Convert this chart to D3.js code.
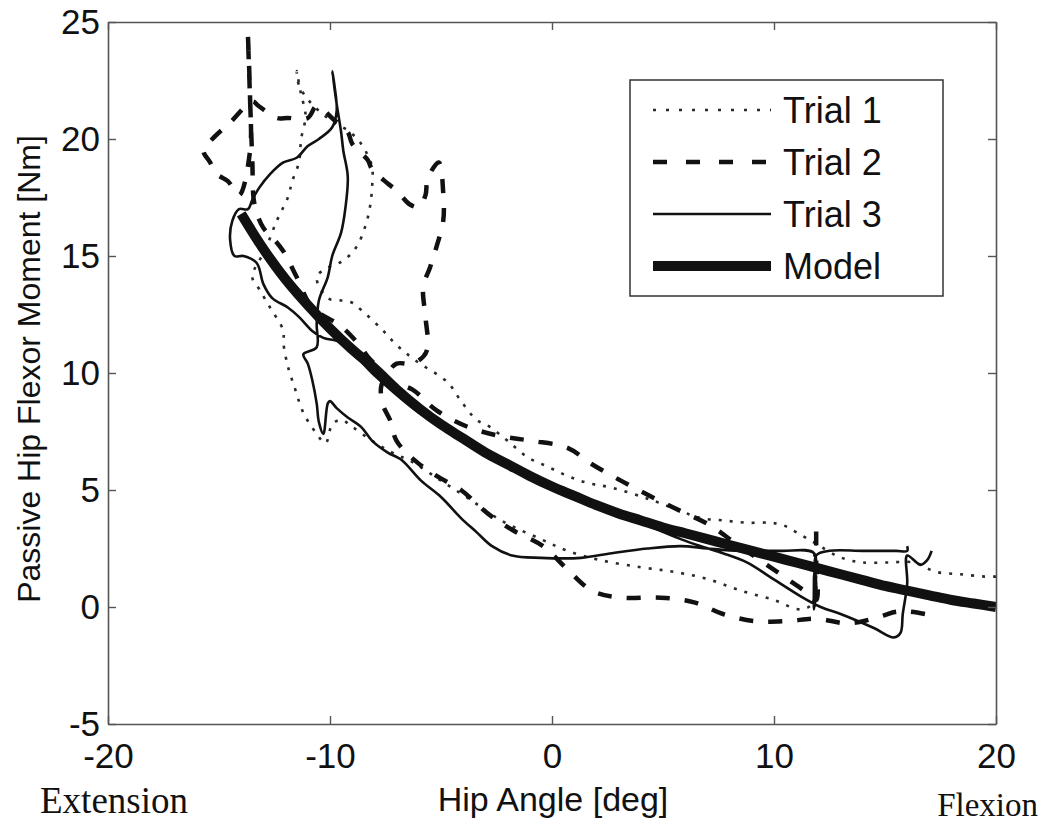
<!DOCTYPE html>
<html>
<head>
<meta charset="utf-8">
<script src="https://cdn.jsdelivr.net/npm/d3@7"></script>
<style>
  body { margin: 0; background: #fff; }
  svg { display: block; }
  text { fill: #111; }
</style>
</head>
<body>
<svg id="chart"></svg>
<script>
// hip angle [deg], passive moment [Nm]
const trial1 = [
  [20.0,1.3],[19.5,1.3],[18.4,1.4],[17.3,1.5],[16.3,1.9],[15.1,1.9],[14.0,1.9],[13.4,2.0],
  [12.8,2.2],[11.9,2.7],[11.0,3.2],[10.4,3.5],[9.8,3.6],[8.8,3.6],[7.7,3.7],[6.7,3.8],
  [5.8,4.1],[4.4,4.6],[2.7,5.1],[1.6,5.3],[0.7,5.6],[-0.2,6.0],[-1.1,6.4],[-2.0,7.1],
  [-2.8,7.7],[-3.4,8.0],[-4.1,8.8],[-4.7,9.6],[-6.1,10.5],[-7.0,11.2],[-7.7,11.9],[-8.6,12.7],
  [-9.0,13.0],[-9.5,13.1],[-10.1,13.2],[-10.6,14.1],[-10.1,14.5],[-9.4,14.8],[-8.8,15.4],
  [-8.4,16.3],[-8.2,17.1],[-8.1,18.0],[-8.1,18.8],[-8.3,19.3],[-8.6,19.8],[-9.1,20.3],
  [-9.8,20.7],[-10.5,21.2],[-11.0,21.7],[-11.4,22.3],[-11.5,22.9],[-11.3,21.9],[-11.1,21.0],
  [-11.3,20.0],[-11.4,19.0],[-11.7,18.2],[-11.9,17.5],[-12.4,16.5],[-12.9,15.3],[-13.5,14.1],
  [-13.2,13.6],[-12.7,12.8],[-12.1,11.8],[-12.1,11.3],[-11.9,10.3],[-11.6,9.4],[-11.2,8.3],
  [-10.6,7.4],[-10.2,7.0],[-9.9,7.8],[-9.5,8.0],[-9.0,7.7],[-8.1,7.1],[-7.2,6.6],[-6.3,6.2],
  [-5.0,5.4],[-3.7,4.6],[-2.3,3.7],[-0.5,2.9],[0.7,2.4],[2.2,2.0],[4.0,1.7],[5.5,1.5],
  [7.0,1.2],[8.5,0.7],[10.0,0.3],[11.2,-0.1],[11.8,0.2],[11.9,1.2],[11.8,2.0],[11.9,2.7]
]

const trial2 = [
  [16.8,-0.3],[16.1,-0.2],[15.5,-0.2],[14.8,-0.4],[13.4,-0.7],[11.9,-0.5],[10.6,-0.6],[9.1,-0.6],
  [7.7,-0.3],[6.4,0.2],[4.9,0.4],[3.1,0.4],[1.8,0.7],[0.7,1.6],[-0.4,2.6],[-1.8,3.3],
  [-2.9,4.0],[-4.1,5.0],[-5.2,5.6],[-6.1,6.2],[-7.0,7.1],[-7.3,8.0],[-7.6,8.6],[-7.7,9.4],
  [-7.4,10.0],[-7.0,10.4],[-6.3,10.4],[-5.8,10.7],[-5.6,11.1],[-5.7,12.4],[-5.8,13.7],
  [-5.5,14.5],[-5.2,15.4],[-4.9,16.5],[-4.9,17.7],[-5.1,19.0],[-5.6,18.3],[-5.7,17.6],
  [-6.0,17.1],[-6.4,17.2],[-7.0,17.8],[-7.4,18.1],[-8.1,18.7],[-8.3,19.1],[-9.0,19.8],
  [-9.2,20.3],[-9.8,20.8],[-10.6,21.4],[-11.0,20.9],[-11.9,20.9],[-12.4,20.9],[-13.2,21.4],
  [-13.5,21.6],[-14.5,20.7],[-15.3,20.0],[-15.7,19.5],[-15.4,19.0],[-15.1,18.5],[-14.6,18.2],
  [-14.1,17.6],[-13.6,19.5],[-13.6,21.7],[-13.7,24.5],[-13.6,21.7],[-13.5,19.1],[-13.4,17.2],
  [-13.0,16.2],[-12.6,15.8],[-12.1,15.2],[-11.5,14.1],[-10.8,12.8],[-9.5,12.0],[-8.6,11.1],
  [-8.3,10.7],[-7.7,10.1],[-7.4,9.7],[-6.3,9.3],[-5.2,8.4],[-3.8,7.7],[-2.3,7.3],[-0.9,7.1],
  [0.7,6.8],[1.8,6.1],[3.1,5.4],[4.5,4.7],[5.8,4.1],[7.1,3.5],[8.3,2.7],[10.6,1.2],
  [11.5,0.6],[11.9,0.3],[11.9,2.0],[11.9,3.6]
]

const trial3 = [
  [17.1,2.4],[16.9,2.0],[16.6,1.8],[16.0,2.2],[16.0,1.0],[15.8,-0.3],[15.7,-1.1],[15.4,-1.3],
  [14.5,-0.9],[13.0,-0.3],[12.1,0.0],[11.3,0.4],[9.8,1.3],[8.8,1.9],[7.7,2.3],[6.7,2.6],
  [5.8,2.9],[4.0,3.6],[2.0,4.3],[0.0,5.1],[-2.0,6.0],[-4.0,7.1],[-6.0,8.3],[-8.0,9.9],
  [-9.5,11.3],[-10.3,11.5],[-10.8,11.8],[-11.4,12.4],[-11.9,12.8],[-12.6,13.2],[-13.0,13.8],
  [-13.3,14.7],[-13.9,15.0],[-14.3,15.0],[-14.5,15.7],[-14.4,16.5],[-14.1,17.0],[-13.7,17.0],
  [-13.5,17.4],[-13.2,17.9],[-12.7,18.5],[-12.1,19.0],[-11.5,19.2],[-11.0,19.7],[-10.5,20.0],
  [-9.9,20.5],[-9.7,21.2],[-9.8,22.3],[-9.9,22.9],[-9.7,21.5],[-9.5,20.3],[-9.4,19.5],
  [-9.2,18.4],[-9.3,17.1],[-9.5,16.0],[-9.9,15.0],[-10.1,14.1],[-10.5,13.1],[-10.6,12.1],
  [-10.6,11.1],[-11.2,10.8],[-11.0,10.4],[-10.8,9.7],[-10.6,8.7],[-10.5,7.9],[-10.3,7.4],
  [-10.1,8.7],[-10.0,8.8],[-9.7,8.5],[-9.2,8.1],[-8.6,7.7],[-8.1,7.1],[-7.4,6.6],[-6.8,6.3],
  [-5.9,5.4],[-5.0,4.7],[-4.1,3.8],[-3.4,3.2],[-2.7,2.6],[-1.8,2.2],[-0.5,2.1],[1.3,2.1],
  [2.7,2.3],[4.3,2.5],[5.8,2.6],[7.0,2.5],[8.5,2.4],[10.3,2.4],[11.8,2.3],[11.8,1.2],
  [11.8,-0.1],[11.9,0.9],[11.9,2.2],[12.5,2.4],[14.0,2.4],[15.5,2.4],[16.0,2.4],[16.0,2.6]
]

const model = [
  [-14,16.8],[-13,15.3],[-12,14.0],[-11,12.9],[-10,11.9],[-9,11.0],[-8,10.2],[-7,9.3],
  [-6,8.5],[-5,7.8],[-4,7.2],[-3,6.6],[-2,6.1],[-1,5.6],[0,5.15],[1,4.75],[2,4.35],
  [3,4.0],[4,3.7],[5,3.4],[6,3.15],[7,2.9],[8,2.65],[9,2.4],[10,2.15],[11,1.9],
  [12,1.65],[13,1.4],[14,1.15],[15,0.9],[16,0.7],[17,0.5],[18,0.3],[19,0.15],[20,0]
]

const xTicks = [-20, -10, 0, 10, 20]
const yTicks = [-5, 0, 5, 10, 15, 20, 25]
const legendLabels = ['Trial 1', 'Trial 2', 'Trial 3', 'Model']

const width = 1052
const height = 823
const margin = { top: 22, right: 56, bottom: 99, left: 108 }
const bodyWidth = width - margin.left - margin.right
const bodyHeight = height - margin.top - margin.bottom
const font = "'Liberation Sans', Arial, sans-serif"
const serif = "'Liberation Serif', 'Times New Roman', serif"

const svg = d3.select('#chart').attr('width', width).attr('height', height)

const xScale = d3.scaleLinear().domain([-20, 20]).range([0, bodyWidth])
const yScale = d3.scaleLinear().domain([-5, 25]).range([bodyHeight, 0])

const body = svg.append('g')
  .attr('transform', `translate(${margin.left},${margin.top})`)

// line styles for the series, same order as legendLabels
const styles = [
  { data: trial1, width: 2.6, dash: '3,8', legendDash: '3,10', color: '#2a2a2a' },
  { data: trial2, width: 4.5, dash: '14,15', legendDash: '14,19', color: '#111' },
  { data: trial3, width: 2.6, dash: null, legendDash: null, color: '#111' },
  { data: model, width: 10, dash: null, legendDash: null, color: '#111' },
]

const line = d3.line()
  .x((d) => xScale(d[0]))
  .y((d) => yScale(d[1]))
  .curve(d3.curveCatmullRom.alpha(0.5))

styles.forEach((s) => {
  body.append('path')
    .datum(s.data)
    .attr('d', line)
    .attr('fill', 'none')
    .attr('stroke', s.color)
    .attr('stroke-width', s.width)
    .attr('stroke-dasharray', s.dash)
    .attr('stroke-linejoin', 'round')
})

// axes, box style with inward ticks
const axisColor = '#555'
const plainNumber = (d) => String(d)
const styleAxis = (g) => {
  g.select('.domain').attr('stroke', axisColor).attr('stroke-width', 1.6)
  g.selectAll('.tick line').attr('stroke', axisColor).attr('stroke-width', 1.4)
  g.selectAll('.tick text')
    .style('font-family', font)
    .style('font-size', '35px')
    .attr('fill', '#111')
}

body.append('g')
  .attr('transform', `translate(0,${bodyHeight})`)
  .call(d3.axisBottom(xScale).tickValues(xTicks).tickFormat(plainNumber)
    .tickSizeInner(-8).tickSizeOuter(0).tickPadding(19))
  .call(styleAxis)

body.append('g')
  .call(d3.axisLeft(yScale).tickValues(yTicks).tickFormat(plainNumber)
    .tickSizeInner(-8).tickSizeOuter(0).tickPadding(8))
  .call(styleAxis)

body.append('g')
  .call(d3.axisTop(xScale).tickValues(xTicks).tickSizeInner(-8).tickSizeOuter(0).tickFormat(''))
  .call(styleAxis)

body.append('g')
  .attr('transform', `translate(${bodyWidth},0)`)
  .call(d3.axisRight(yScale).tickValues(yTicks).tickSizeInner(-8).tickSizeOuter(0).tickFormat(''))
  .call(styleAxis)

// legend
const legend = svg.append('g').attr('transform', 'translate(630,80)')
legend.append('rect')
  .attr('width', 313).attr('height', 216)
  .attr('fill', '#fff').attr('stroke', '#333').attr('stroke-width', 1.5)

legendLabels.forEach((label, i) => {
  const s = styles[i]
  const y = 30 + i * 52
  legend.append('line')
    .attr('x1', 23).attr('x2', 141).attr('y1', y).attr('y2', y)
    .attr('stroke', s.color)
    .attr('stroke-width', s.width)
    .attr('stroke-dasharray', s.legendDash)
  legend.append('text')
    .attr('x', 153).attr('y', y + 13)
    .style('font-family', font).style('font-size', '36px')
    .text(label)
})

// axis titles
svg.append('text')
  .attr('x', 553).attr('y', 811)
  .attr('text-anchor', 'middle')
  .style('font-family', font).style('font-size', '34px')
  .text('Hip Angle [deg]')

svg.append('text')
  .attr('transform', 'translate(40,369) rotate(-90)')
  .attr('text-anchor', 'middle')
  .style('font-family', font).style('font-size', '32px')
  .text('Passive Hip Flexor Moment [Nm]')

svg.append('text')
  .attr('x', 40).attr('y', 813)
  .style('font-family', serif).style('font-size', '37px')
  .text('Extension')

svg.append('text')
  .attr('x', 1038).attr('y', 816)
  .attr('text-anchor', 'end')
  .style('font-family', serif).style('font-size', '33px')
  .text('Flexion')
</script>
</body>
</html>
